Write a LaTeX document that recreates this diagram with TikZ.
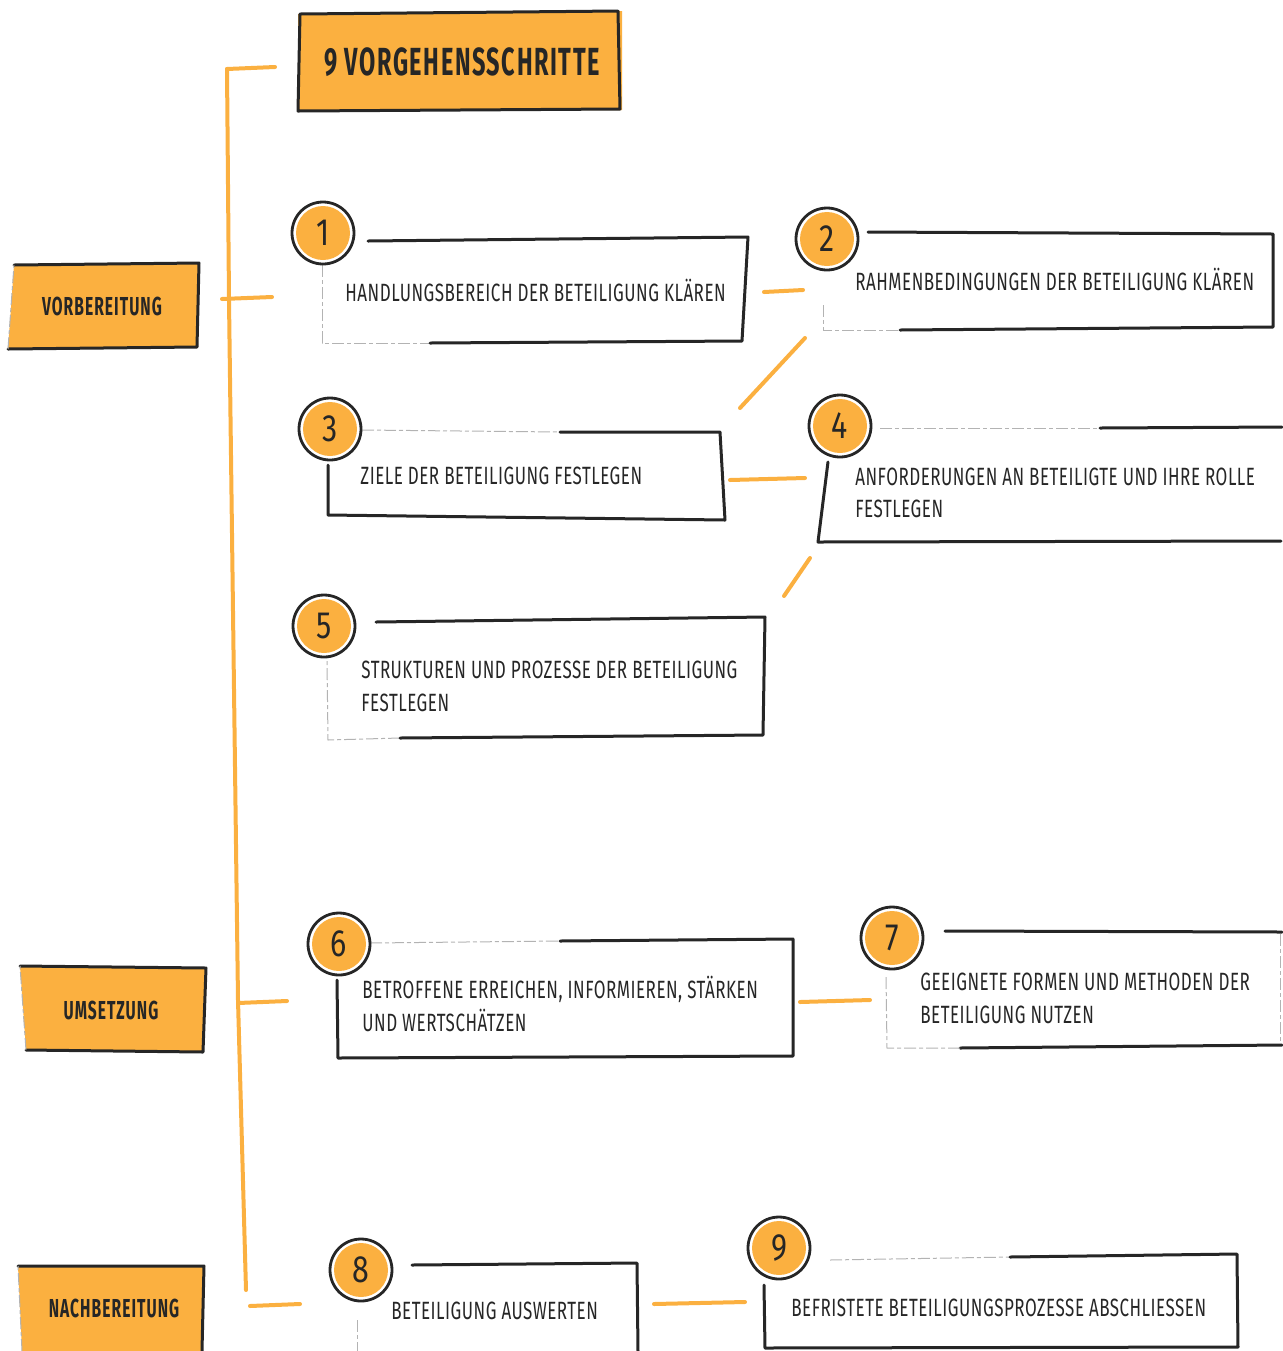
\documentclass[tikz,border=0pt]{standalone}
\usepackage{fontspec}
\setmainfont{Fira Sans}
\newfontfamily\bodyfont{Fira Sans}[FakeStretch=0.68, LetterSpace=2]
\newfontfamily\headfont{Fira Sans}[FakeStretch=0.6, LetterSpace=4]
\newfontfamily\numfont{Fira Sans}[FakeStretch=0.8]
\definecolor{orng}{RGB}{251,176,64}
\definecolor{ink}{RGB}{38,38,38}
\tikzset{
  strong/.style={draw=ink, line width=1.5pt, line cap=round, line join=round},
  faint/.style={draw=ink!35, line width=0.5pt, dash pattern=on 6pt off 1.5pt on 2pt off 1.5pt},
  conn/.style={draw=orng, line width=2pt, line cap=round, line join=round},
  lbl/.style={anchor=base west, inner sep=0pt, font=\bodyfont\fontsize{12.5}{15}\selectfont, text=ink},
  numc/.style={circle, fill=orng, minimum size=27pt, inner sep=0pt, text=ink, font=\numfont\fontsize{19}{19}\selectfont},
  ring/.style={draw=ink, line width=1.4pt},
  phase/.style={anchor=base, inner sep=0pt, text=ink, font=\headfont\bfseries\fontsize{13}{13}\selectfont},
}
\begin{document}
\begin{tikzpicture}[x=0.5pt,y=-0.5pt]
\useasboundingbox (0,0) rectangle (1282,1351);

% ---------- orange timeline ----------
\coordinate (vtop) at (227,69);
\coordinate (vbot) at (246,1290);
\draw[conn] (vtop) -- (229,300) -- (238,1000) -- (vbot);
\coordinate (s0a) at (227,69);   \coordinate (s0b) at (275,67);
\coordinate (s1a) at (222,299);  \coordinate (s1b) at (272,297);
\coordinate (s2a) at (238,1003); \coordinate (s2b) at (287,1001);
\coordinate (s3a) at (250,1306); \coordinate (s3b) at (300,1304);
\draw[conn] (s0a) -- (s0b);
\draw[conn] (s1a) -- (s1b);
\draw[conn] (s2a) -- (s2b);
\draw[conn] (s3a) -- (s3b);

% ---------- title ----------
\fill[orng] (298,14) -- (622,11) -- (622,110) -- (298,111) -- cycle;
\draw[strong] (300,14) -- (618,11) -- (620,109) -- (298,111) -- cycle;
\node[anchor=base west, inner sep=0pt, text=ink, font=\headfont\bfseries\fontsize{19.6}{20}\selectfont] (title) at (324,75) {9 VORGEHENSSCHRITTE};

% ---------- phase boxes ----------
\fill[orng] (14,265) -- (199,263) -- (197,347) -- (8,349) -- cycle;
\draw[strong] (14,265) -- (199,263) -- (197,347) -- (8,349);
\draw[faint] (8,349) -- (14,265);
\node[phase] (pv) at (102,315) {VORBEREITUNG};

\fill[orng] (20,966) -- (206,968) -- (203,1052) -- (26,1050) -- cycle;
\draw[strong] (20,966) -- (206,968) -- (203,1052) -- (26,1050);
\draw[faint] (26,1050) -- (20,966);
\node[phase] (pu) at (111,1019) {UMSETZUNG};

\fill[orng] (18,1266) -- (204,1266) -- (202,1351) -- (22,1351) -- cycle;
\draw[strong] (18,1266) -- (204,1266) -- (202,1351);
\draw[faint] (22,1351) -- (18,1266);
\node[phase] (pn) at (114,1317) {NACHBEREITUNG};

% ---------- step boxes ----------
% 1
\draw[faint] (322,265) -- (322,343) -- (430,343);
\draw[strong] (368,241) -- (748,237) -- (742,341) -- (430,343);
\node[lbl] (t1) at (345,301) {HANDLUNGSBEREICH DER BETEILIGUNG KLÄREN};
% 2
\draw[faint] (823,305) -- (823,330) -- (900,330);
\draw[strong] (868,232) -- (1273,234) -- (1273,327) -- (900,330);
\node[lbl] (t2) at (855,290) {RAHMENBEDINGUNGEN DER BETEILIGUNG KLÄREN};
% 3
\draw[faint] (362,430) -- (560,432);
\draw[strong] (560,432) -- (720,432) -- (725,520) -- (328,515) -- (328,465);
\node[lbl] (t3) at (360,484) {ZIELE DER BETEILIGUNG FESTLEGEN};
% 4
\draw[faint] (880,428) -- (1100,428);
\draw[strong] (1100,428) -- (1282,427);
\draw[strong] (1281,541) -- (818,542) -- (828,462);
\node[lbl] (t4a) at (855,485) {ANFORDERUNGEN AN BETEILIGTE UND IHRE ROLLE};
\node[lbl] (t4b) at (855,517) {FESTLEGEN};
% 5
\draw[faint] (400,738) -- (328,740) -- (327,660);
\draw[strong] (376,622) -- (765,617) -- (763,735) -- (400,738);
\node[lbl] (t5a) at (361,678) {STRUKTUREN UND PROZESSE DER BETEILIGUNG};
\node[lbl] (t5b) at (361,711) {FESTLEGEN};
% 6
\draw[faint] (370,943) -- (560,941);
\draw[strong] (560,941) -- (793,939) -- (793,1056) -- (338,1058) -- (337,980);
\node[lbl] (t6a) at (362,998) {BETROFFENE ERREICHEN, INFORMIEREN, STÄRKEN};
\node[lbl] (t6b) at (362,1031) {UND WERTSCHÄTZEN};
% 7
\draw[strong] (945,931) -- (1282,932);
\draw[faint] (1280,934) -- (1280,1045);
\draw[strong] (1282,1045) -- (960,1048);
\draw[faint] (960,1048) -- (887,1048) -- (886,975);
\node[lbl] (t7a) at (920,990) {GEEIGNETE FORMEN UND METHODEN DER};
\node[lbl] (t7b) at (920,1023) {BETEILIGUNG NUTZEN};
% 8
\draw[strong] (412,1265) -- (637,1263) -- (638,1351);
\draw[faint] (357,1320) -- (357,1351);
\node[lbl] (t8) at (391,1319) {BETEILIGUNG AUSWERTEN};
% 9
\draw[faint] (830,1260) -- (1010,1257);
\draw[strong] (1010,1257) -- (1237,1254) -- (1238,1347) -- (765,1348) -- (764,1285);
\node[lbl] (t9) at (791,1316) {BEFRISTETE BETEILIGUNGSPROZESSE ABSCHLIESSEN};

% ---------- numbered circles ----------
\foreach \n/\cx/\cy in {1/323/233, 2/827/239, 3/330/429, 4/840/426, 5/324/626, 6/339/944, 7/892/938, 8/361/1270, 9/779/1248}{
  \node[numc] (n\n) at (\cx,\cy) {\n};
  \draw[ring] (n\n.center) circle[radius=15.5pt];
}

% ---------- orange connectors between steps ----------
\coordinate (c12a) at (764,292);  \coordinate (c12b) at (803,290);
\coordinate (c23a) at (805,338);  \coordinate (c23b) at (740,408);
\coordinate (c34a) at (730,480);  \coordinate (c34b) at (805,478);
\coordinate (c45a) at (810,558);  \coordinate (c45b) at (784,596);
\coordinate (c67a) at (800,1002); \coordinate (c67b) at (870,1000);
\coordinate (c89a) at (654,1304); \coordinate (c89b) at (745,1302);
\draw[conn] (c12a) -- (c12b);
\draw[conn] (c23a) -- (c23b);
\draw[conn] (c34a) -- (c34b);
\draw[conn] (c45a) -- (c45b);
\draw[conn] (c67a) -- (c67b);
\draw[conn] (c89a) -- (c89b);
\end{tikzpicture}
\end{document}
